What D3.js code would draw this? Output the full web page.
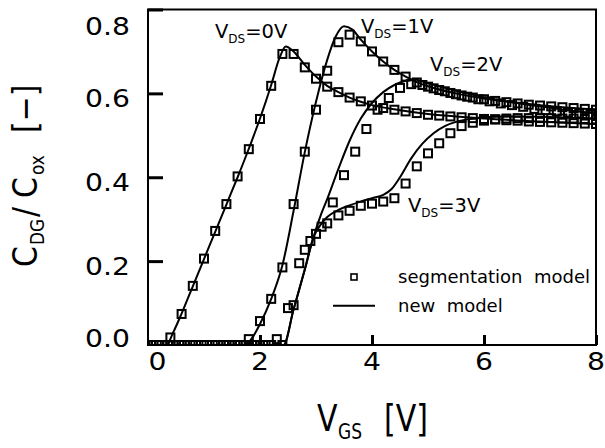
<!DOCTYPE html>
<html>
<head>
<meta charset="utf-8">
<script src="https://cdn.jsdelivr.net/npm/d3@7"></script>
<style>
  body { margin: 0; background: #fff; }
  text { font-family: "DejaVu Sans", sans-serif; fill: #000; }
</style>
</head>
<body>
<svg id="chart" width="605" height="448"></svg>
<script>
// segmentation model (squares), V_DS = 0V and 1V on an even V_GS grid
const sq0x = [0.0,0.2,0.4,0.6,0.8,1.0,1.2,1.4,1.6,1.8,2.0,2.2,2.4,2.6,2.8,3.0,3.2,3.4,3.6,3.8,4.0,4.2,4.4,4.6,4.8,5.0,5.2,5.4,5.6,5.8,6.0,6.2,6.4,6.6,6.8,7.0,7.2,7.4,7.6,7.8,8.0];
const sq0y = [0,0,0.018,0.074,0.141,0.206,0.272,0.336,0.402,0.467,0.539,0.618,0.694,0.694,0.662,0.635,0.616,0.603,0.590,0.581,0.571,0.565,0.561,0.557,0.553,0.549,0.547,0.545,0.543,0.541,0.539,0.538,0.536,0.535,0.533,0.532,0.531,0.530,0.529,0.528,0.527];
const sq1x = [0.0,0.2,0.4,0.6,0.8,1.0,1.2,1.4,1.6,1.8,2.0,2.2,2.4,2.6,2.8,3.0,3.2,3.4,3.6,3.8,4.0,4.2,4.4,4.6,4.8,5.0,5.2,5.4,5.6,5.8,6.0,6.2,6.4,6.6,6.8,7.0,7.2,7.4,7.6,7.8,8.0];
const sq1y = [0,0,0,0,0,0,0,0,0,0.014,0.057,0.110,0.185,0.336,0.461,0.561,0.654,0.722,0.740,0.724,0.700,0.676,0.656,0.640,0.626,0.616,0.608,0.601,0.595,0.590,0.586,0.582,0.579,0.576,0.573,0.571,0.569,0.567,0.565,0.563,0.561];
// V_DS = 2V is sampled on the odd grid
const sq2x = [0.1,0.3,0.5,0.7,0.9,1.1,1.3,1.5,1.7,1.9,2.1,2.3,2.5,2.7,2.9,3.1,3.3,3.5,3.7,3.9,4.1,4.3,4.5,4.7,4.9,5.1,5.3,5.5,5.7,5.9,6.1,6.3,6.5,6.7,6.9,7.1,7.3,7.5,7.7,7.9];
const sq2y = [0,0,0,0,0,0,0,0,0,0,0,0.014,0.088,0.195,0.248,0.282,0.340,0.405,0.461,0.515,0.561,0.589,0.613,0.622,0.620,0.612,0.605,0.598,0.592,0.586,0.581,0.576,0.572,0.568,0.563,0.560,0.557,0.554,0.552,0.549];
const sq3x = [0.0,0.2,0.4,0.6,0.8,1.0,1.2,1.4,1.6,1.8,2.0,2.2,2.4,2.6,2.8,3.0,3.2,3.4,3.6,3.8,4.0,4.2,4.4,4.6,4.8,5.0,5.2,5.4,5.6,5.8,6.0,6.2,6.4,6.6,6.8,7.0,7.2,7.4,7.6,7.8,8.0];
const sq3y = [0,0,0,0,0,0,0,0,0,0,0,0,0,0.095,0.227,0.265,0.290,0.309,0.320,0.332,0.337,0.342,0.350,0.385,0.426,0.457,0.481,0.505,0.522,0.530,0.535,0.538,0.540,0.541,0.541,0.541,0.541,0.540,0.540,0.539,0.538];

// new model (solid lines)
const ln0x = [0,0.33,0.45,0.6,0.8,1.0,1.2,1.4,1.6,1.8,2.0,2.2,2.35,2.46,2.6,2.8,3.0,3.2,3.4,3.6,3.8,4.0,4.5,5.0,5.5,6.0,7.0,8.0];
const ln0y = [0,0,0.03,0.075,0.14,0.205,0.27,0.335,0.40,0.468,0.54,0.62,0.685,0.712,0.70,0.668,0.64,0.618,0.603,0.59,0.58,0.572,0.56,0.551,0.545,0.54,0.533,0.527];
const ln1x = [0,1.73,1.85,2.0,2.2,2.4,2.6,2.8,3.0,3.2,3.35,3.5,3.65,3.8,4.0,4.2,4.4,4.6,4.8,5.0,5.5,6.0,6.5,7.0,7.5,8.0];
const ln1y = [0,0,0.015,0.05,0.11,0.19,0.32,0.46,0.58,0.68,0.735,0.76,0.752,0.728,0.70,0.676,0.656,0.64,0.627,0.617,0.60,0.588,0.579,0.572,0.566,0.562];
const ln2x = [0,2.42,2.6,2.8,2.95,3.1,3.2,3.4,3.6,3.8,4.0,4.2,4.4,4.6,4.75,5.0,5.5,6.0,6.5,7.0,7.5,8.0];
const ln2y = [0,0,0.085,0.18,0.255,0.315,0.348,0.42,0.487,0.54,0.577,0.603,0.62,0.63,0.633,0.624,0.606,0.591,0.579,0.569,0.56,0.552];
const ln3x = [0,2.42,2.6,2.8,2.95,3.1,3.2,3.4,3.6,3.8,4.0,4.2,4.35,4.5,4.7,4.9,5.1,5.3,5.5,5.7,6.0,6.5,7.0,7.5,8.0];
const ln3y = [0,0,0.085,0.18,0.255,0.29,0.305,0.322,0.333,0.342,0.35,0.358,0.372,0.40,0.445,0.48,0.505,0.522,0.532,0.538,0.543,0.545,0.544,0.542,0.54];

const xTicks = [0, 2, 4, 6, 8];
const yTicks = [0.0, 0.2, 0.4, 0.6, 0.8];
const curveLabels = [
  {vds: "0V", x: 215, y: 38},
  {vds: "1V", x: 361, y: 33},
  {vds: "2V", x: 430, y: 71},
  {vds: "3V", x: 408, y: 212}
];

const zip = (xs, ys) => xs.map((v, i) => ({x: v, y: ys[i]}));
const squares = [zip(sq0x, sq0y), zip(sq1x, sq1y), zip(sq2x, sq2y), zip(sq3x, sq3y)];
const lines = [zip(ln0x, ln0y), zip(ln1x, ln1y), zip(ln2x, ln2y), zip(ln3x, ln3y)];

let svg = d3.select("#chart"),
  pLeft = 148, pRight = 596, pTop = 9.5, pBottom = 345;

let xScale = d3.scaleLinear().domain([0, 8]).range([pLeft, pRight]);
let yScale = d3.scaleLinear().domain([0, 0.8]).range([pBottom, pTop]);

svg.append("clipPath").attr("id", "plotclip")
  .append("rect")
  .attr("x", pLeft).attr("y", pTop)
  .attr("width", pRight - pLeft).attr("height", pBottom - pTop + 1);

let plot = svg.append("g").attr("clip-path", "url(#plotclip)");

let line = d3.line()
  .x(d => xScale(d.x))
  .y(d => yScale(d.y))
  .curve(d3.curveMonotoneX);

plot.selectAll("path.model")
  .data(lines)
  .enter().append("path")
  .attr("class", "model")
  .attr("fill", "none")
  .attr("stroke", "#000")
  .attr("stroke-width", 2)
  .attr("d", line);

// squares, ~10px outside
squares.forEach(series => {
  plot.selectAll(null)
    .data(series)
    .enter().append("rect")
    .attr("x", d => xScale(d.x) - 4)
    .attr("y", d => yScale(d.y) - 4)
    .attr("width", 8)
    .attr("height", 8)
    .attr("fill", "none")
    .attr("stroke", "#000")
    .attr("stroke-width", 2);
});

// frame
svg.append("rect")
  .attr("x", pLeft).attr("y", pTop)
  .attr("width", pRight - pLeft).attr("height", pBottom - pTop)
  .attr("fill", "none")
  .attr("stroke", "#000")
  .attr("stroke-width", 2);

// inward ticks
let yAxis = svg.append("g")
  .attr("transform", "translate(" + pLeft + ",0)")
  .call(d3.axisLeft(yScale).tickValues([0.2, 0.4, 0.6, 0.8]).tickSizeInner(-15).tickSizeOuter(0).tickFormat(""));
yAxis.select(".domain").remove();
yAxis.selectAll(".tick line").attr("stroke", "#000").attr("stroke-width", 3);

let xAxis = svg.append("g")
  .attr("transform", "translate(0," + pBottom + ")")
  .call(d3.axisBottom(xScale).tickValues([2, 4, 6, 8]).tickSizeInner(-10).tickSizeOuter(0).tickFormat(""));
xAxis.select(".domain").remove();
xAxis.selectAll(".tick line").attr("stroke", "#000").attr("stroke-width", 3);

// tick labels (kept inside the frame at the ends)
svg.selectAll("g.ylab")
  .data(yTicks)
  .enter().append("g")
  .attr("class", "ylab")
  .attr("transform", d => "translate(130," + Math.min(Math.max(yScale(d) + 13.4, 35), 346.7) + ") scale(1.13,1)")
  .append("text")
  .attr("text-anchor", "end")
  .style("font-size", "25px")
  .text(d => d.toFixed(1));

svg.selectAll("g.xlab")
  .data(xTicks)
  .enter().append("g")
  .attr("class", "xlab")
  .attr("transform", d => "translate(" + Math.max(xScale(d), 157.5) + ",370) scale(1.13,1)")
  .append("text")
  .attr("text-anchor", "middle")
  .style("font-size", "25px")
  .text(d => d);

// axis titles
let xt = svg.append("g").attr("transform", "translate(317,431) scale(1,1.25)")
  .append("text").style("font-size", "30px");
xt.append("tspan").attr("x", 0).text("V");
xt.append("tspan").attr("x", 21).attr("dy", 6).style("font-size", "17px").text("GS");
xt.append("tspan").attr("x", 67).attr("dy", -6).text("[V]");

let yt = svg.append("g").attr("transform", "translate(37,267) rotate(-90) scale(1,1.15)")
  .append("text").style("font-size", "30px");
yt.append("tspan").attr("x", 0).text("C");
yt.append("tspan").attr("x", 22).attr("dy", 6).style("font-size", "17px").text("DG");
yt.append("tspan").attr("x", 50).attr("dy", -6).text("/");
yt.append("tspan").attr("x", 69).text("C");
yt.append("tspan").attr("x", 92).attr("dy", 6).style("font-size", "17px").text("ox");
yt.append("tspan").attr("x", 134).attr("dy", -6).text("[\u2212]");

// curve labels
curveLabels.forEach(c => {
  let t = svg.append("text")
    .attr("x", c.x).attr("y", c.y)
    .style("font-size", "19.5px");
  t.append("tspan").text("V");
  t.append("tspan").attr("dy", 5).style("font-size", "12px").text("DS");
  t.append("tspan").attr("dy", -5).text("=" + c.vds);
});

// legend
svg.append("rect")
  .attr("x", 351).attr("y", 274)
  .attr("width", 6).attr("height", 6)
  .attr("fill", "none").attr("stroke", "#000").attr("stroke-width", 1.6);
svg.append("text").attr("x", 398).attr("y", 283)
  .style("font-size", "18px").attr("xml:space", "preserve").text("segmentation  model");
svg.append("line")
  .attr("x1", 333).attr("x2", 375).attr("y1", 305.7).attr("y2", 305.7)
  .attr("stroke", "#000").attr("stroke-width", 2);
svg.append("text").attr("x", 398).attr("y", 312)
  .style("font-size", "18px").attr("xml:space", "preserve").text("new  model");
</script>
</body>
</html>
